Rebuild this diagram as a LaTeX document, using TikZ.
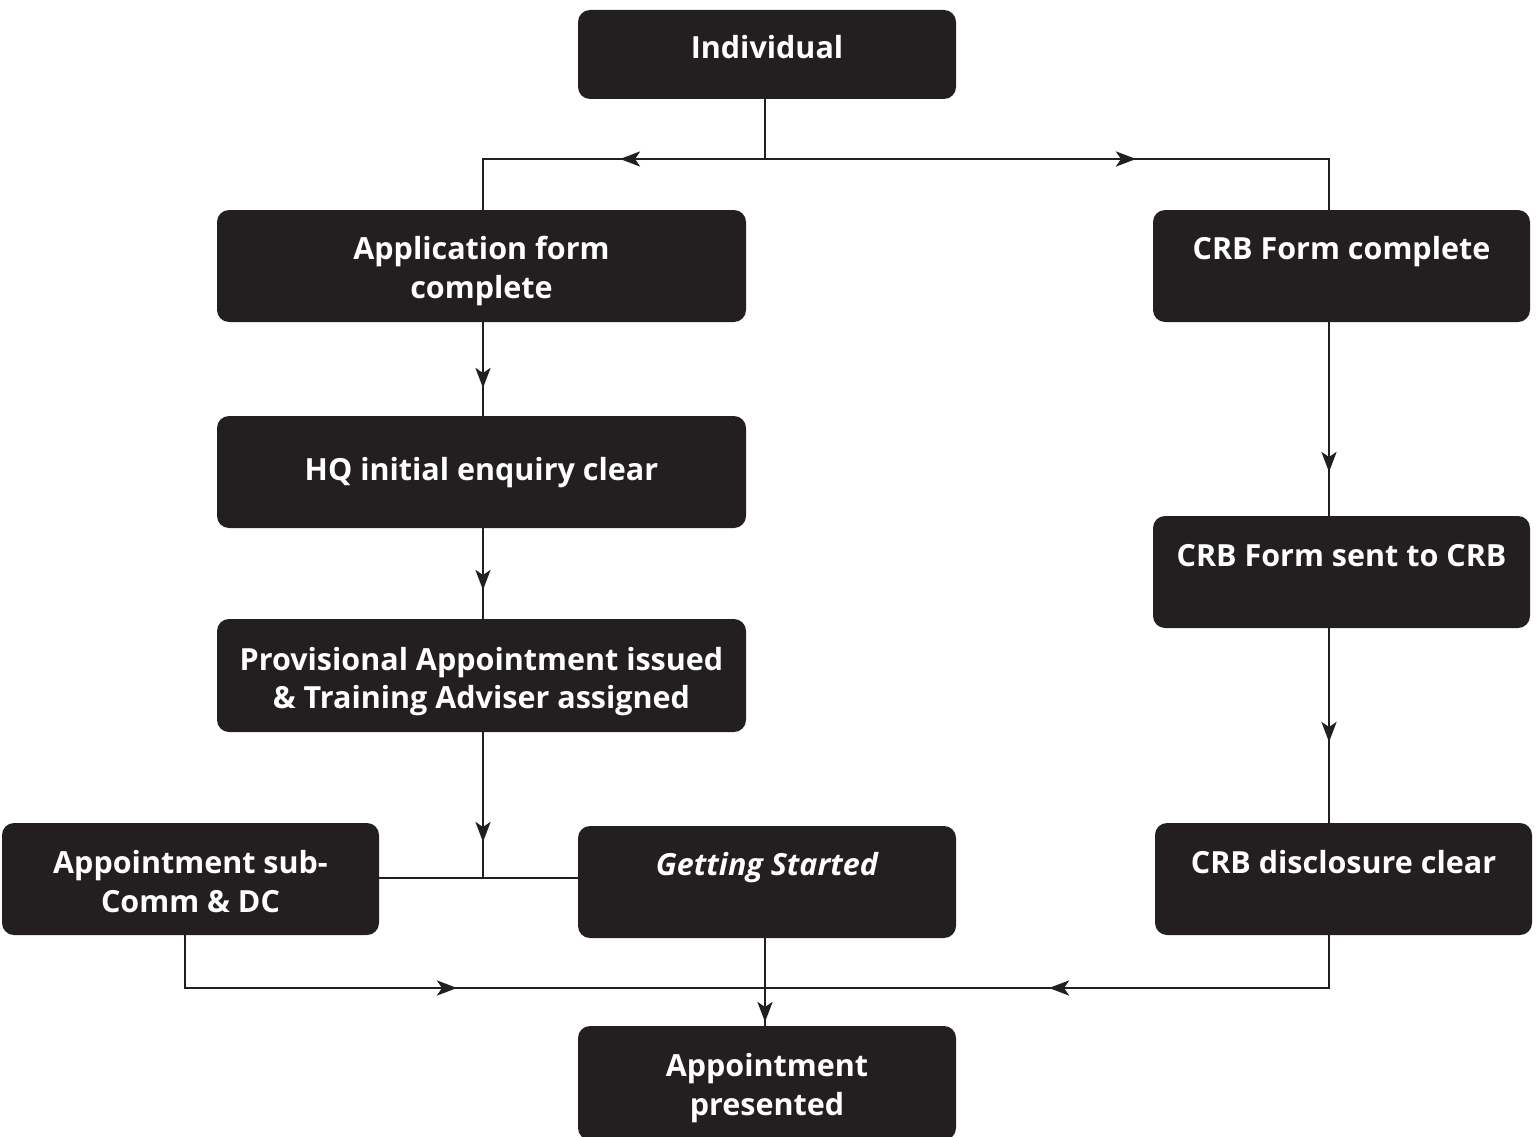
\documentclass[tikz,border=0pt]{standalone}
\usepackage{fontspec}
\setmainfont{Open Sans}
\usetikzlibrary{arrows.meta,calc}
\definecolor{boxc}{HTML}{231F20}
\tikzset{
  box/.style={fill=boxc, rounded corners=12pt, inner sep=0pt, minimum height=112pt},
  lbl/.style={text=white, font=\bfseries\fontsize{30.5}{39}\selectfont, anchor=base, inner sep=0pt},
  ln/.style={line width=2.8pt, draw=boxc},
  tip/.style={line width=2.8pt, draw=boxc, -{Stealth[length=20pt,width=15pt,inset=5pt]}},
}
\begin{document}
\begin{tikzpicture}[x=1pt,y=-1pt]
\useasboundingbox (0,0) rectangle (1537,1137);
% boxes
\node[box, minimum width=378pt, minimum height=89pt] (ind) at (767,54.5) {};
\node[box, minimum width=529pt] (app) at (481.5,266) {};
\node[box, minimum width=377pt] (crbc) at (1341.5,266) {};
\node[box, minimum width=529pt] (hq) at (481.5,472) {};
\node[box, minimum width=377pt] (crbs) at (1341.5,572) {};
\node[box, minimum width=529pt, minimum height=113pt] (prov) at (481.5,675.5) {};
\node[box, minimum width=377pt] (sub) at (190.5,879) {};
\node[box, minimum width=378pt] (gs) at (767,882) {};
\node[box, minimum width=377pt] (crbd) at (1343.5,879) {};
\node[box, minimum width=378pt, minimum height=114pt] (pres) at (767,1083) {};
% labels
\node[lbl] (tind) at (767,59) {Individual};
\node[lbl] (tapp1) at (481.5,259) {Application form};
\node[lbl] (tapp2) at (481.5,298) {complete};
\node[lbl] (tcrbc) at (1341.5,259) {CRB Form complete};
\node[lbl] (thq) at (481.5,480) {HQ initial enquiry clear};
\node[lbl] (tcrbs) at (1341.5,566) {CRB Form sent to CRB};
\node[lbl] (tprov1) at (481.5,670) {Provisional Appointment issued};
\node[lbl] (tprov2) at (481.5,708) {\& Training Adviser assigned};
\node[lbl] (tsub1) at (190.5,873) {Appointment sub-};
\node[lbl] (tsub2) at (190.5,912) {Comm \& DC};
\node[lbl, font=\bfseries\itshape\fontsize{30.5}{39}\selectfont] (tgs) at (767,875) {Getting Started};
\node[lbl] (tcrbd) at (1343.5,873) {CRB disclosure clear};
\node[lbl] (tpres1) at (767,1076) {Appointment};
\node[lbl] (tpres2) at (767,1115) {presented};
% junction coordinates
\coordinate (j1) at (765,159);
\coordinate (jl) at (483,159);
\coordinate (jr) at (1329,159);
\coordinate (j2) at (483,878);
\coordinate (b0) at (185,988);
\coordinate (b1) at (765,988);
\coordinate (b2) at (1329,988);
\coordinate (a1) at (620,159);
\coordinate (a2) at (1136,159);
\coordinate (a3) at (483,388);
\coordinate (a4) at (483,590);
\coordinate (a5) at (483,842);
\coordinate (a6) at (1329,472);
\coordinate (a7) at (1329,742);
\coordinate (a8) at (457,988);
\coordinate (a9) at (1049,988);
\coordinate (a10) at (765,1022);
% connectors
\draw[ln] (ind.south -| j1) -- (j1);
\draw[ln] (app.north -| jl) -- (jl) -- (jr) -- (crbc.north -| jr);
\draw[tip] (j1) -- (a1);
\draw[tip] (j1) -- (a2);
\draw[ln] (app.south -| jl) -- (hq.north -| jl);
\draw[tip] (app.south -| jl) -- (a3);
\draw[ln] (hq.south -| jl) -- (prov.north -| jl);
\draw[tip] (hq.south -| jl) -- (a4);
\draw[ln] (prov.south -| jl) -- (j2);
\draw[tip] (prov.south -| jl) -- (a5);
\draw[ln] (sub.east |- j2) -- (gs.west |- j2);
\draw[ln] (crbc.south -| jr) -- (crbs.north -| jr);
\draw[tip] (crbc.south -| jr) -- (a6);
\draw[ln] (crbs.south -| jr) -- (crbd.north -| jr);
\draw[tip] (crbs.south -| jr) -- (a7);
\draw[ln] (sub.south -| b0) -- (b0) -- (b2) -- (crbd.south -| b2);
\draw[tip] (b0) -- (a8);
\draw[tip] (b2) -- (a9);
\draw[ln] (gs.south -| b1) -- (pres.north -| b1);
\draw[tip] (gs.south -| b1) -- (a10);
\end{tikzpicture}
\end{document}
